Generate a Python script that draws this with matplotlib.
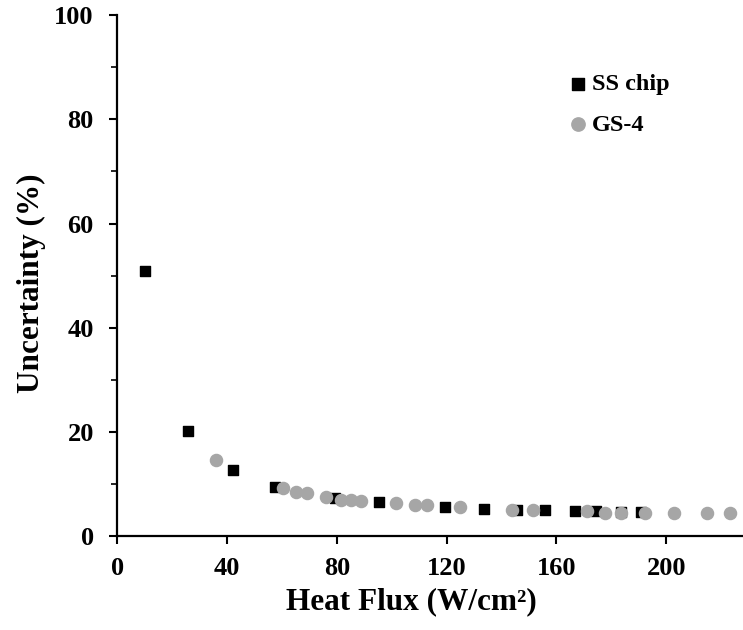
import numpy as np
import matplotlib.pyplot as plt
from matplotlib.ticker import MultipleLocator

# SS chip (black squares)
ss_flux = [10.1, 25.8, 42.2, 57.3, 79.2, 95.3, 119.5, 133.5, 145.8, 155.8, 166.8, 174.5, 183.6, 190.7]
ss_unc = [50.8, 20.1, 12.7, 9.5, 7.3, 6.5, 5.6, 5.2, 5.0, 5.0, 4.8, 4.8, 4.7, 4.7]

# GS-4 (grey circles)
gs_flux = [36.1, 60.4, 65.0, 69.1, 76.1, 81.6, 85.2, 88.6, 101.6, 108.3, 112.7, 125.0,
           143.8, 151.3, 171.3, 177.6, 183.4, 192.2, 202.8, 214.9, 223.4]
gs_unc = [14.6, 9.2, 8.5, 8.2, 7.6, 7.0, 6.9, 6.7, 6.3, 6.0, 6.0, 5.5,
          5.0, 5.1, 4.8, 4.5, 4.5, 4.5, 4.4, 4.4, 4.4]

plt.rcParams['font.family'] = ['Liberation Serif', 'DejaVu Serif']
plt.rcParams['font.weight'] = 'bold'

fig = plt.figure(figsize=(7.43, 6.30), dpi=100)
ax = fig.add_axes([0.158, 0.149, 0.842, 0.827])

ax.scatter(ss_flux, ss_unc, marker='s', s=56, color='black', label='SS chip', zorder=2)
ax.scatter(gs_flux, gs_unc, marker='o', s=76, color='#a6a6a6', label='GS-4', zorder=3)

ax.set_xlim(0, 228)
ax.set_ylim(0, 100)
ax.xaxis.set_major_locator(MultipleLocator(40))
ax.yaxis.set_major_locator(MultipleLocator(20))
ax.yaxis.set_minor_locator(MultipleLocator(10))

for s in ['top', 'right']:
    ax.spines[s].set_visible(False)
for s in ['left', 'bottom']:
    ax.spines[s].set_linewidth(1.6)

ax.tick_params(which='major', direction='out', length=6, width=1.5, labelsize=19)
ax.tick_params(axis='y', which='major', pad=11)
ax.tick_params(axis='x', which='major', pad=9)
ax.tick_params(which='minor', direction='out', length=4, width=1.2)
for lab in ax.get_xticklabels() + ax.get_yticklabels():
    lab.set_fontweight('bold')

ax.set_xlabel('Heat Flux (W/cm²)', fontsize=22.5, fontweight='bold')
ax.set_ylabel('Uncertainty (%)', fontsize=22.5, fontweight='bold')
ax.xaxis.set_label_coords(0.47, -0.098)
ax.yaxis.set_label_coords(-0.114, 0.486)

ax.legend(loc='upper left', bbox_to_anchor=(0.685, 0.93), frameon=False,
          prop={'size': 17.5, 'weight': 'bold'}, handletextpad=0.2,
          handlelength=0.8, labelspacing=0.75, markerscale=1.1)

fig.savefig('out.png', dpi=100)
